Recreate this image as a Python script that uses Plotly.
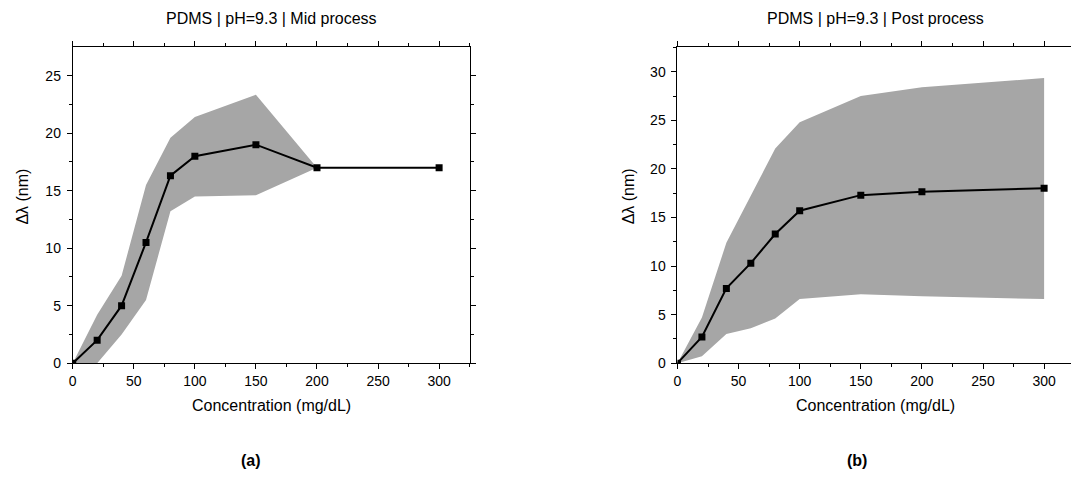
import plotly.graph_objects as go

conc = [0, 20, 40, 60, 80, 100, 150, 200, 300]

mid_mean = [0, 2.0, 5.0, 10.5, 16.3, 18.0, 19.0, 17.0, 17.0]
mid_upper = [0, 4.2, 7.6, 15.5, 19.6, 21.4, 23.35, 17.0, 17.0]
mid_lower = [0, 0.0, 2.5, 5.5, 13.2, 14.5, 14.6, 17.0, 17.0]

post_mean = [0, 2.7, 7.7, 10.3, 13.3, 15.7, 17.3, 17.65, 18.0]
post_upper = [0, 4.7, 12.4, 17.3, 22.1, 24.8, 27.5, 28.4, 29.35]
post_lower = [0, 0.7, 3.0, 3.6, 4.6, 6.6, 7.1, 6.9, 6.6]

titles = ["PDMS | pH=9.3 | Mid process", "PDMS | pH=9.3 | Post process"]
panel_labels = ["(a)", "(b)"]
x_title = "Concentration (mg/dL)"
y_title = "Δλ (nm)"
x_ticks = [0, 50, 100, 150, 200, 250, 300]

FONT = "Arial, Liberation Sans, sans-serif"
BAND = "rgb(166,166,166)"

W, H = 1071, 482
def px(x):
    return x / W
def py(y):
    return (H - y) / H

fig = go.Figure()

def add_panel(xa, ya, mean, up, lo):
    fig.add_trace(go.Scatter(x=conc, y=lo, mode="lines", line=dict(width=0, color=BAND),
                             xaxis=xa, yaxis=ya, showlegend=False, hoverinfo="skip"))
    fig.add_trace(go.Scatter(x=conc, y=up, mode="lines", line=dict(width=0, color=BAND),
                             fill="tonexty", fillcolor=BAND,
                             xaxis=xa, yaxis=ya, showlegend=False, hoverinfo="skip"))
    fig.add_trace(go.Scatter(x=conc, y=mean, mode="lines+markers",
                             line=dict(color="black", width=2),
                             marker=dict(symbol="square", size=7, color="black"),
                             xaxis=xa, yaxis=ya, showlegend=False))

add_panel("x", "y", mid_mean, mid_upper, mid_lower)
add_panel("x2", "y2", post_mean, post_upper, post_lower)
# invisible trace to host the top axis of the right panel
fig.add_trace(go.Scatter(x=conc, y=post_mean, mode="lines", line=dict(width=0),
                         opacity=0, xaxis="x3", yaxis="y2", showlegend=False, hoverinfo="skip"))

ydom = [py(369.3), py(48.3)]

common = dict(showline=True, linecolor="black", linewidth=1, ticks="outside", ticklen=5,
              tickwidth=1, tickcolor="black", showgrid=False, zeroline=False,
              tickfont=dict(family=FONT, size=14, color="black"))
minor_x = dict(dtick=25, tick0=0, ticks="outside", ticklen=3, tickcolor="black")
minor_y = dict(dtick=2.5, tick0=0, ticks="outside", ticklen=3, tickcolor="black")

fig.update_layout(
    width=W, height=H, margin=dict(l=0, r=0, t=0, b=0),
    paper_bgcolor="white", plot_bgcolor="white",
    font=dict(family=FONT, color="black"),
    xaxis=dict(domain=[px(69), px(468)], range=[0, 325.5], anchor="y", mirror="ticks",
               tickvals=x_ticks, minor=minor_x, **common),
    yaxis=dict(domain=ydom, range=[0, 27.45], anchor="x", mirror="ticks", dtick=5, tick0=0,
               minor=minor_y, ticklabelstandoff=3, **common),
    xaxis2=dict(domain=[px(676), 1.0], range=[0, 322], anchor="y2",
                tickvals=x_ticks, minor=minor_x, **common),
    xaxis3=dict(overlaying="x2", side="top", range=[0, 322], anchor="y2",
                tickvals=x_ticks, showticklabels=False, minor=minor_x, **common),
    yaxis2=dict(domain=ydom, range=[0, 32.5], anchor="x2", dtick=5, tick0=0,
                minor=minor_y, ticklabelstandoff=3, **common),
)

ann = []
centers = [268.5, 875]
for i, c in enumerate(centers):
    ann.append(dict(text=titles[i], x=px(c), y=py(19), xref="paper", yref="paper",
                    showarrow=False, xanchor="center", yanchor="middle",
                    font=dict(family=FONT, size=16, color="black")))
    ann.append(dict(text=x_title, x=px(c), y=py(412), xref="paper", yref="paper",
                    showarrow=False, xanchor="center", yanchor="middle",
                    font=dict(family=FONT, size=16, color="black")))
ann.append(dict(text=y_title, x=px(19), y=py(200), xref="paper", yref="paper", textangle=-90,
                showarrow=False, xanchor="center", yanchor="middle",
                font=dict(family=FONT, size=16, color="black")))
ann.append(dict(text=y_title, x=px(627), y=py(200), xref="paper", yref="paper", textangle=-90,
                showarrow=False, xanchor="center", yanchor="middle",
                font=dict(family=FONT, size=16, color="black")))
ann.append(dict(text="<b>" + panel_labels[0] + "</b>", x=px(248), y=py(468), xref="paper",
                yref="paper", showarrow=False, xanchor="center", yanchor="middle",
                font=dict(family=FONT, size=16, color="black")))
ann.append(dict(text="<b>" + panel_labels[1] + "</b>", x=px(856), y=py(468), xref="paper",
                yref="paper", showarrow=False, xanchor="center", yanchor="middle",
                font=dict(family=FONT, size=16, color="black")))
fig.update_layout(annotations=ann)

fig.write_html("out.html")
